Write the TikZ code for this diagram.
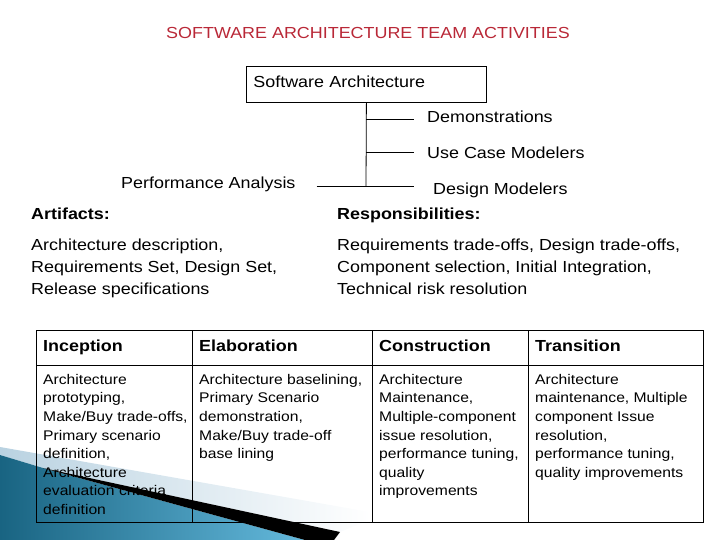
\documentclass[tikz,border=0pt]{standalone}
\usepackage{fontspec}
\setmainfont{Liberation Sans}[FakeStretch=1.12]
\definecolor{titlered}{RGB}{185,40,55}
\definecolor{swdark}{RGB}{25,100,130}
\definecolor{swlight}{RGB}{100,185,220}
\definecolor{swband}{RGB}{185,210,225}
\begin{document}
\begin{tikzpicture}[x=1pt,y=-1pt,
  txt/.style={inner sep=0pt, anchor=base west, font=\fontsize{16}{22}\selectfont},
  hdr/.style={inner sep=0pt, anchor=base west, font=\fontsize{16}{22}\selectfont\bfseries},
  para/.style={inner sep=0pt, anchor=north west, align=left, font=\fontsize{16}{22}\selectfont},
  cell/.style={inner sep=0pt, anchor=north west, align=left, font=\fontsize{14}{18.6}\selectfont},
  ln/.style={line width=0.8pt},
  grid/.style={line width=0.8pt}]
\useasboundingbox (0,0) rectangle (720,540);
% background swoosh
\shade[left color=swband, right color=white] (0,447) -- (370,512) -- (370,520) -- (340,532) -- (43,468) -- (0,455) -- cycle;
\shade[left color=swdark, right color=swlight] (0,455) -- (43,468) -- (305,540) -- (0,540) -- cycle;
\fill[black] (43,468) -- (340,532) -- (334,540) -- (305,540) -- cycle;
% title
\node (title) [inner sep=0pt, anchor=base, text=titlered, font=\fontsize{16}{20}\selectfont] at (368,39) {SOFTWARE ARCHITECTURE TEAM ACTIVITIES};
% tree
\node (sa) [draw, ln, anchor=north west, minimum width=240pt, minimum height=36pt,
  text width=226pt, text depth=5pt, inner sep=7pt, align=left, font=\fontsize{16}{22}\selectfont] at (246,66) {Software Architecture};
\node (demo) [txt] at (427,123) {Demonstrations};
\node (ucm) [txt] at (427,159) {Use Case Modelers};
\node (dm) [txt] at (433,195) {Design Modelers};
\node (pa) [txt] at (121,189) {Performance Analysis};
\coordinate (j1) at (366,119);
\coordinate (j2) at (366,152);
\coordinate (j3) at (366,186);
\draw[ln] (sa.south) -- (j3);
\draw[ln] (j1) -- ([xshift=-13pt]j1 -| demo.west);
\draw[ln] (j2) -- ([xshift=-13pt]j2 -| ucm.west);
\draw[ln] ([xshift=21pt]j3 -| pa.east) -- ([xshift=-19pt]j3 -| dm.west);
% artifacts / responsibilities
\node (art) [hdr] at (31,219) {Artifacts:};
\node (resp) [hdr] at (337,219) {Responsibilities:};
\node (artt) [para] at (31,239) {Architecture description,\\Requirements Set, Design Set,\\Release specifications};
\node (respt) [para] at (337,239) {Requirements trade-offs, Design trade-offs,\\Component selection, Initial Integration,\\Technical risk resolution};
% table
\draw[grid] (36,330) rectangle (703,522);
\draw[grid] (36,365) -- (703,365);
\draw[grid] (192,330) -- (192,522);
\draw[grid] (372,330) -- (372,522);
\draw[grid] (528,330) -- (528,522);
\node (h1) [hdr] at (43,351) {Inception};
\node (h2) [hdr] at (199,351) {Elaboration};
\node (h3) [hdr] at (379,351) {Construction};
\node (h4) [hdr] at (535,351) {Transition};
\node (c1) [cell] at (43,374) {Architecture\\prototyping,\\Make/Buy trade-offs,\\Primary scenario\\definition,\\Architecture\\evaluation criteria\\definition};
\node (c2) [cell] at (199,374) {Architecture baselining,\\Primary Scenario\\demonstration,\\Make/Buy trade-off\\base lining};
\node (c3) [cell] at (379,374) {Architecture\\Maintenance,\\Multiple-component\\issue resolution,\\performance tuning,\\quality\\improvements};
\node (c4) [cell] at (535,374) {Architecture\\maintenance, Multiple\\component Issue\\resolution,\\performance tuning,\\quality improvements};
\end{tikzpicture}
\end{document}
